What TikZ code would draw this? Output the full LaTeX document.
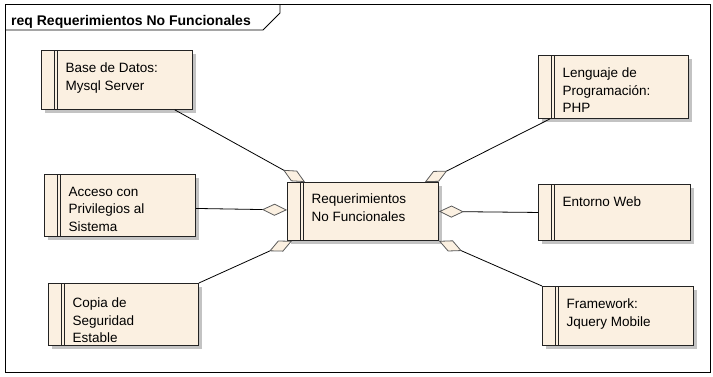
\documentclass[tikz,border=0pt]{standalone}
\usepackage{fontspec}
\setmainfont{Liberation Sans}
\usetikzlibrary{arrows.meta,shadows}
\definecolor{cream}{RGB}{251,240,225}
\definecolor{shd}{RGB}{195,195,195}
\definecolor{edge}{RGB}{35,35,35}
\definecolor{dia}{RGB}{90,90,90}
\newcommand\dblline[1]{\draw[edge, line width=0.8pt] ([xshift=13.5pt]#1.north west) -- ([xshift=13.5pt]#1.south west) ([xshift=16.5pt]#1.north west) -- ([xshift=16.5pt]#1.south west);}
\begin{document}
\begin{tikzpicture}[x=1pt,y=-1pt,
  reqbox/.style={draw=edge, line width=0.9pt, fill=cream, rectangle, inner sep=0pt, anchor=north west,
    drop shadow={shadow xshift=4pt, shadow yshift=-4pt, fill=shd, opacity=1}},
  txt/.style={anchor=north west, inner sep=0pt, align=left, font=\fontsize{13.5}{17.5}\selectfont},
  conn/.style={draw=black, line width=0.8pt, -{Diamond[length=25pt,width=12pt,fill=cream,color=dia,line width=0.8pt]}},
  framest/.style={draw=black, line width=0.8pt}
]
\useasboundingbox (0,0) rectangle (713,376);
% frame
\draw[framest] (5,4) rectangle (710,372);
\draw[framest] (5,30) -- (263,30) -- (280,13) -- (280,4);
\node[anchor=base west, inner sep=0pt, font=\fontsize{14}{16}\selectfont\bfseries] (title) at (11,25) {req Requerimientos No Funcionales};
% boxes
\node[reqbox, minimum width=151pt, minimum height=59pt] (db) at (41,50) {};
\node[reqbox, minimum width=150pt, minimum height=63pt] (lang) at (538,55) {};
\node[reqbox, minimum width=151pt, minimum height=62pt] (acc) at (44,174) {};
\node[reqbox, minimum width=152pt, minimum height=56pt] (ent) at (538,184) {};
\node[reqbox, minimum width=150pt, minimum height=62pt] (cop) at (48,283) {};
\node[reqbox, minimum width=151pt, minimum height=59pt] (fw) at (542,286) {};
\node[reqbox, minimum width=151pt, minimum height=58pt] (ctr) at (287,182) {};
\dblline{db}\dblline{lang}\dblline{acc}\dblline{ent}\dblline{cop}\dblline{fw}\dblline{ctr}
% texts
\node[txt] (dbt) at ([xshift=24.5pt,yshift=-13pt]db.north west) {Base de Datos:\\Mysql Server};
\node[txt] (langt) at ([xshift=24.5pt,yshift=-13pt]lang.north west) {Lenguaje de\\Programación:\\PHP};
\node[txt] (acct) at ([xshift=24.5pt,yshift=-13pt]acc.north west) {Acceso con\\Privilegios al\\Sistema};
\node[txt] (entt) at ([xshift=24.5pt,yshift=-13pt]ent.north west) {Entorno Web};
\node[txt] (copt) at ([xshift=24.5pt,yshift=-15pt]cop.north west) {Copia de\\Seguridad\\Estable};
\node[txt] (fwt) at ([xshift=24.5pt,yshift=-13pt]fw.north west) {Framework:\\Jquery Mobile};
\node[txt] (ctrt) at ([xshift=24.5pt,yshift=-12pt]ctr.north west) {Requerimientos\\No Funcionales};
% connectors
\draw[conn] ([xshift=-18pt]db.south east) -- ([xshift=18pt]ctr.north west);
\draw[conn] ([xshift=12pt]lang.south west) -- ([xshift=-14pt]ctr.north east);
\draw[conn] ([yshift=-3pt]acc.east) -- ([yshift=1.5pt]ctr.west);
\draw[conn] (ent.west) -- (ctr.east);
\draw[conn] (cop.north east) -- ([xshift=5pt]ctr.south west);
\draw[conn] (fw.north west) -- (ctr.south east);
\end{tikzpicture}
\end{document}
